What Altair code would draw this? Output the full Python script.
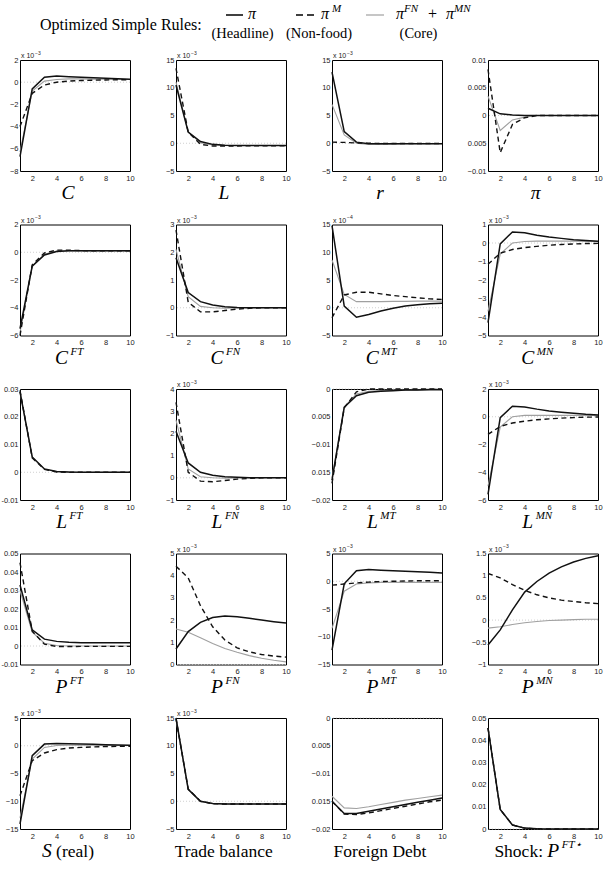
import altair as alt
import pandas as pd

steps = [1, 2, 3, 4, 5, 6, 7, 8, 9, 10]
x_ticks = [2, 4, 6, 8, 10]
x_labels = ["2", "4", "6", "8", "10"]

# Series: head = pi (Headline), nonf = pi^M (Non-food), core = pi^FN + pi^MN (Core)
C_head = [-6.7, -0.6, 0.45, 0.55, 0.5, 0.45, 0.4, 0.35, 0.3, 0.27]
C_nonf = [-4.0, -1.0, -0.25, 0.0, 0.1, 0.15, 0.18, 0.2, 0.22, 0.23]
C_core = [-6.3, -0.8, 0.1, 0.25, 0.3, 0.3, 0.28, 0.27, 0.26, 0.25]
C_ticks = [-8, -6, -4, -2, 0, 2]
C_labels = ["−8", "−6", "−4", "−2", "0", "2"]

L_head = [10.5, 2.0, 0.3, -0.2, -0.35, -0.4, -0.4, -0.4, -0.4, -0.4]
L_nonf = [13.5, 2.0, -0.2, -0.5, -0.5, -0.5, -0.45, -0.45, -0.45, -0.45]
L_core = [11.0, 2.0, 0.1, -0.3, -0.4, -0.4, -0.4, -0.4, -0.4, -0.4]
L_ticks = [-5, 0, 5, 10, 15]
L_labels = ["−5", "0", "5", "10", "15"]

r_head = [12.8, 2.1, 0.2, -0.1, -0.1, -0.1, -0.1, -0.1, -0.1, -0.1]
r_nonf = [0.2, 0.15, 0.05, 0.0, -0.05, -0.05, -0.05, -0.05, -0.05, -0.05]
r_core = [7.0, 1.5, 0.0, -0.2, -0.2, -0.15, -0.1, -0.1, -0.1, -0.1]
r_ticks = [-5, 0, 5, 10, 15]
r_labels = ["−5", "0", "5", "10", "15"]

pi_head = [0.0013, 0.0003, 0.0001, 0.0, 0.0, 0.0, 0.0, 0.0, 0.0, 0.0]
pi_nonf = [0.0083, -0.0067, -0.0016, -0.0004, 0.0, 0.0, 0.0, 0.0, 0.0, 0.0]
pi_core = [0.0035, -0.0027, -0.0008, -0.0003, 0.0, 0.0, 0.0, 0.0, 0.0, 0.0]
pi_ticks = [-0.01, -0.005, 0, 0.005, 0.01]
pi_labels = ["−0.01", "0.005", "0", "0.005", "0.01"]

CFT_head = [-5.5, -1.0, -0.2, 0.05, 0.1, 0.1, 0.1, 0.1, 0.1, 0.1]
CFT_nonf = [-6.0, -0.9, -0.05, 0.15, 0.15, 0.12, 0.1, 0.1, 0.1, 0.1]
CFT_core = [-5.8, -1.0, -0.15, 0.08, 0.1, 0.1, 0.1, 0.1, 0.1, 0.1]
CFT_ticks = [-6, -4, -2, 0, 2]
CFT_labels = ["−6", "−4", "−2", "0", "2"]

CFN_head = [1.8, 0.55, 0.22, 0.1, 0.04, 0.01, 0.0, 0.0, 0.0, 0.0]
CFN_nonf = [2.8, 0.2, -0.15, -0.15, -0.1, -0.05, -0.02, 0.0, 0.0, 0.0]
CFN_core = [2.1, 0.4, 0.05, 0.0, -0.02, -0.01, 0.0, 0.0, 0.0, 0.0]
CFN_ticks = [-1, 0, 1, 2, 3]
CFN_labels = ["−1", "0", "1", "2", "3"]

CMT_head = [14.8, 0.3, -1.7, -1.2, -0.6, -0.1, 0.3, 0.55, 0.7, 0.8]
CMT_nonf = [-1.8, 2.3, 2.8, 2.8, 2.5, 2.2, 2.0, 1.8, 1.6, 1.5]
CMT_core = [8.6, 2.4, 1.1, 1.1, 1.1, 1.15, 1.15, 1.2, 1.2, 1.2]
CMT_ticks = [-5, 0, 5, 10, 15]
CMT_labels = ["−5", "0", "5", "10", "15"]

CMN_head = [-4.3, -0.05, 0.6, 0.55, 0.42, 0.32, 0.25, 0.18, 0.14, 0.1]
CMN_nonf = [-1.15, -0.55, -0.35, -0.25, -0.18, -0.12, -0.08, -0.05, -0.03, -0.02]
CMN_core = [-3.7, -0.6, 0.0, 0.08, 0.1, 0.1, 0.1, 0.1, 0.09, 0.08]
CMN_ticks = [-5, -4, -3, -2, -1, 0, 1]
CMN_labels = ["−5", "−4", "−3", "−2", "−1", "0", "1"]

LFT_head = [0.029, 0.0055, 0.0012, 0.0003, 0.0001, 0.0, 0.0, 0.0, 0.0, 0.0]
LFT_nonf = [0.0295, 0.0052, 0.001, 0.0001, 0.0, 0.0, 0.0, 0.0, 0.0, 0.0]
LFT_core = [0.029, 0.0053, 0.0011, 0.0002, 0.0, 0.0, 0.0, 0.0, 0.0, 0.0]
LFT_ticks = [-0.01, 0, 0.01, 0.02, 0.03]
LFT_labels = ["-0.01", "0", "0.01", "0.02", "0.03"]

LFN_head = [2.1, 0.67, 0.25, 0.12, 0.05, 0.02, 0.0, 0.0, 0.0, 0.0]
LFN_nonf = [3.4, 0.25, -0.15, -0.18, -0.12, -0.06, -0.03, 0.0, 0.0, 0.0]
LFN_core = [2.6, 0.4, 0.05, 0.0, -0.02, -0.01, 0.0, 0.0, 0.0, 0.0]
LFN_ticks = [-1, 0, 1, 2, 3, 4]
LFN_labels = ["−1", "0", "1", "2", "3", "4"]

LMT_head = [-0.0164, -0.0033, -0.0012, -0.0006, -0.0004, -0.0003, -0.0002, -0.0002, -0.0001, -0.0001]
LMT_nonf = [-0.017, -0.0034, -0.0005, 0.0, 0.0, 0.0, 0.0, 0.0, 0.0, 0.0]
LMT_core = [-0.016, -0.0032, -0.0009, -0.0004, -0.0003, -0.0002, -0.0002, -0.0002, -0.0002, -0.0002]
LMT_ticks = [-0.02, -0.015, -0.01, -0.005, 0]
LMT_labels = ["−0.02", "0.015", "−0.01", "0.005", "0"]

LMN_head = [-5.6, -0.06, 0.76, 0.7, 0.55, 0.42, 0.33, 0.25, 0.18, 0.13]
LMN_nonf = [-1.27, -0.7, -0.45, -0.32, -0.22, -0.15, -0.1, -0.06, -0.03, -0.02]
LMN_core = [-5.0, -0.75, 0.0, 0.1, 0.1, 0.1, 0.1, 0.1, 0.1, 0.1]
LMN_ticks = [-6, -4, -2, 0, 2]
LMN_labels = ["−6", "−4", "−2", "0", "2"]

PFT_head = [0.033, 0.0087, 0.0037, 0.0025, 0.002, 0.0018, 0.0017, 0.0017, 0.0017, 0.0017]
PFT_nonf = [0.045, 0.008, 0.001, -0.0003, -0.0003, -0.0002, -0.0002, -0.0002, -0.0002, -0.0002]
PFT_core = [0.030, 0.0075, 0.0015, 0.0003, 0.0, 0.0, 0.0, 0.0, 0.0, 0.0]
PFT_ticks = [-0.01, 0, 0.01, 0.02, 0.03, 0.04, 0.05]
PFT_labels = ["-0.01", "0", "0.01", "0.02", "0.03", "0.04", "0.05"]

PFN_head = [0.7, 1.48, 1.9, 2.12, 2.18, 2.15, 2.08, 2.0, 1.93, 1.87]
PFN_nonf = [4.43, 3.9, 2.65, 1.7, 1.1, 0.75, 0.57, 0.45, 0.38, 0.33]
PFN_core = [1.6, 1.45, 1.2, 0.95, 0.72, 0.55, 0.4, 0.28, 0.19, 0.12]
PFN_ticks = [0, 1, 2, 3, 4, 5]
PFN_labels = ["0", "1", "2", "3", "4", "5"]

PMT_head = [-12.4, -0.45, 1.9, 2.1, 2.0, 1.9, 1.8, 1.7, 1.6, 1.5]
PMT_nonf = [-0.7, -0.5, -0.3, -0.15, -0.05, 0.0, 0.05, 0.08, 0.1, 0.1]
PMT_core = [-8.5, -1.8, -0.5, -0.3, -0.2, -0.2, -0.2, -0.2, -0.2, -0.2]
PMT_ticks = [-15, -10, -5, 0, 5]
PMT_labels = ["−15", "−10", "−5", "0", "5"]

PMN_head = [-0.56, -0.22, 0.23, 0.63, 0.87, 1.06, 1.2, 1.31, 1.39, 1.45]
PMN_nonf = [1.05, 0.95, 0.8, 0.67, 0.57, 0.5, 0.45, 0.42, 0.39, 0.37]
PMN_core = [-0.18, -0.15, -0.1, -0.06, -0.03, -0.01, 0.0, 0.01, 0.02, 0.02]
PMN_ticks = [-1, -0.5, 0, 0.5, 1, 1.5]
PMN_labels = ["−1", "−0.5", "0", "0.5", "1", "1.5"]

S_head = [-14.1, -1.8, 0.3, 0.4, 0.35, 0.3, 0.25, 0.2, 0.15, 0.1]
S_nonf = [-9.0, -2.7, -1.3, -0.7, -0.4, -0.3, -0.2, -0.15, -0.1, -0.1]
S_core = [-13.0, -2.4, -0.3, 0.05, 0.1, 0.1, 0.08, 0.06, 0.05, 0.05]
S_ticks = [-15, -10, -5, 0, 5]
S_labels = ["−15", "−10", "−5", "0", "5"]

TB_head = [15.0, 2.15, 0.0, -0.4, -0.5, -0.5, -0.5, -0.5, -0.5, -0.5]
TB_nonf = [14.9, 2.2, 0.0, -0.45, -0.5, -0.5, -0.5, -0.5, -0.5, -0.5]
TB_core = [14.8, 2.1, -0.05, -0.4, -0.5, -0.5, -0.5, -0.5, -0.5, -0.5]
TB_ticks = [-5, 0, 5, 10, 15]
TB_labels = ["−5", "0", "5", "10", "15"]

FD_head = [-0.0150, -0.0172, -0.0172, -0.0168, -0.0164, -0.0160, -0.0156, -0.0152, -0.0148, -0.0144]
FD_nonf = [-0.0150, -0.0173, -0.0174, -0.0171, -0.0167, -0.0163, -0.0159, -0.0155, -0.0151, -0.0148]
FD_core = [-0.0141, -0.0162, -0.0163, -0.0160, -0.0156, -0.0152, -0.0148, -0.0145, -0.0142, -0.0139]
FD_ticks = [-0.02, -0.015, -0.01, -0.005, 0]
FD_labels = ["−0.02", "0.015", "−0.01", "0.005", "0"]

SH_head = [0.0455, 0.0088, 0.0018, 0.0004, 0.0001, 0.0, 0.0, 0.0, 0.0, 0.0]
SH_nonf = [0.0455, 0.0088, 0.0018, 0.0004, 0.0001, 0.0, 0.0, 0.0, 0.0, 0.0]
SH_core = [0.0455, 0.0088, 0.0018, 0.0004, 0.0001, 0.0, 0.0, 0.0, 0.0, 0.0]
SH_ticks = [0, 0.01, 0.02, 0.03, 0.04, 0.05]
SH_labels = ["0", "0.01", "0.02", "0.03", "0.04", "0.05"]

header_title = "Optimized Simple Rules:"
legend_names = ["(Headline)", "(Non-food)", "(Core)"]

# ---------------------------------------------------------------- styling
SER = "Liberation Serif"
SANS = "Liberation Sans"
PW, PH = 110, 111
TCX, TBASE = 48, 139
SIZES = {"rm": 17.5, "it": 19.5, "sup": 11}
UP = {"T": .611, "r": .333, "a": .444, "d": .5, "e": .444, " ": .25, "b": .5, "l": .278,
      "n": .5, "c": .444, "F": .556, "o": .5, "i": .278, "g": .5, "D": .722, "t": .278,
      "S": .556, "h": .5, "k": .5, ":": .278, "(": .333, ")": .333}
IT = {"C": .667, "L": .556, "r": .389, "π": .55, "P": .611, "S": .5, "F": .611, "T": .556,
      "N": .667, "M": .833, "⋆": .5}


def one(t, x, y, size, font=SER, style="normal", align="left", color="#000"):
    return alt.Chart(pd.DataFrame({"t": [t]})).mark_text(
        font=font, fontSize=size, fontStyle=style, align=align,
        baseline="alphabetic", color=color
    ).encode(text="t:N", x=alt.value(x), y=alt.value(y))


def hrule(x1, x2, y, **kw):
    return alt.Chart(pd.DataFrame({"a": [0]})).mark_rule(**kw).encode(
        x=alt.value(x1), x2=alt.value(x2), y=alt.value(y))


def label_expr(vals, labs):
    parts = [f"datum.value == {v} ? '{l}'" for v, l in zip(vals, labs)]
    return " : ".join(parts) + " : ''"


def title_marks(segs):
    widths = [sum((UP if k == "rm" else IT).get(ch, 0.5) for ch in t) * SIZES[k] for t, k in segs]
    x = TCX - sum(widths) / 2
    out = []
    for (t, k), w in zip(segs, widths):
        y = TBASE - 9 if k == "sup" else TBASE
        style = "normal" if k == "rm" else "italic"
        if k == "sup":
            x += 2.5
        lead = len(t) - len(t.lstrip(" "))
        xs = x + lead * UP[" "] * SIZES[k]
        out.append(one(t.strip(" "), xs, y, SIZES[k], SER, style))
        x += w
    return out


def panel(head, nonf, core, ticks, labels, title, mult, extra=()):
    xe = alt.X("s:Q", scale=alt.Scale(domain=[1, 10], nice=False, zero=False),
               axis=alt.Axis(values=x_ticks, labelExpr=label_expr(x_ticks, x_labels),
                             title=None, labelFlush=False))
    ye = alt.Y("v:Q", scale=alt.Scale(domain=[ticks[0], ticks[-1]], nice=False, zero=False),
               axis=alt.Axis(values=ticks, labelExpr=label_expr(ticks, labels), title=None))

    def line(vals, **kw):
        return alt.Chart(pd.DataFrame({"s": steps, "v": vals})).mark_line(**kw).encode(x=xe, y=ye)

    zero = alt.Chart(pd.DataFrame({"v": [0]})).mark_rule(
        color="#c4c4c4", strokeWidth=0.8, strokeDash=[1, 2]).encode(y=ye)
    layers = [zero,
              line(core, color="#a0a0a0", strokeWidth=1.1),
              line(nonf, color="#111", strokeWidth=1.4, strokeDash=[5, 3.5]),
              line(head, color="#111", strokeWidth=1.5)]
    layers += title_marks(title)
    if mult:
        layers += [one("x 10", 1, -2, 7, SANS, color="#222"),
                   one(mult, 15, -5.5, 5, SANS, color="#222")]
    layers += list(extra)
    return alt.layer(*layers).properties(width=PW, height=PH)


header = [
    one(header_title, 20, -30, 16),
    hrule(206, 223, -45, color="#000", strokeWidth=1.5),
    one("π", 228, -41, 16, style="italic"),
    hrule(276, 294, -45, color="#000", strokeWidth=1.5, strokeDash=[7, 4]),
    one("π", 301, -41, 16, style="italic"),
    one("M", 312, -48, 11, style="italic"),
    hrule(346, 364, -45, color="#a0a0a0", strokeWidth=1.2),
    one("π", 376, -41, 16, style="italic"),
    one("FN", 384, -48, 11, style="italic"),
    one("+", 408, -41, 16),
    one("π", 426, -41, 16, style="italic"),
    one("MN", 434, -48, 11, style="italic"),
    one(legend_names[0], 222.5, -22, 14.5, align="center"),
    one(legend_names[1], 299, -22, 14.5, align="center"),
    one(legend_names[2], 398.5, -22, 14.5, align="center"),
]

m3, m4 = "−3", "−4"
charts = [
    panel(C_head, C_nonf, C_core, C_ticks, C_labels, [("C", "it")], m3, header),
    panel(L_head, L_nonf, L_core, L_ticks, L_labels, [("L", "it")], m3),
    panel(r_head, r_nonf, r_core, r_ticks, r_labels, [("r", "it")], m3),
    panel(pi_head, pi_nonf, pi_core, pi_ticks, pi_labels, [("π", "it")], None),
    panel(CFT_head, CFT_nonf, CFT_core, CFT_ticks, CFT_labels, [("C", "it"), ("FT", "sup")], m3),
    panel(CFN_head, CFN_nonf, CFN_core, CFN_ticks, CFN_labels, [("C", "it"), ("FN", "sup")], m3),
    panel(CMT_head, CMT_nonf, CMT_core, CMT_ticks, CMT_labels, [("C", "it"), ("MT", "sup")], m4),
    panel(CMN_head, CMN_nonf, CMN_core, CMN_ticks, CMN_labels, [("C", "it"), ("MN", "sup")], m3),
    panel(LFT_head, LFT_nonf, LFT_core, LFT_ticks, LFT_labels, [("L", "it"), ("FT", "sup")], None),
    panel(LFN_head, LFN_nonf, LFN_core, LFN_ticks, LFN_labels, [("L", "it"), ("FN", "sup")], m3),
    panel(LMT_head, LMT_nonf, LMT_core, LMT_ticks, LMT_labels, [("L", "it"), ("MT", "sup")], None),
    panel(LMN_head, LMN_nonf, LMN_core, LMN_ticks, LMN_labels, [("L", "it"), ("MN", "sup")], m3),
    panel(PFT_head, PFT_nonf, PFT_core, PFT_ticks, PFT_labels, [("P", "it"), ("FT", "sup")], None),
    panel(PFN_head, PFN_nonf, PFN_core, PFN_ticks, PFN_labels, [("P", "it"), ("FN", "sup")], m3),
    panel(PMT_head, PMT_nonf, PMT_core, PMT_ticks, PMT_labels, [("P", "it"), ("MT", "sup")], m3),
    panel(PMN_head, PMN_nonf, PMN_core, PMN_ticks, PMN_labels, [("P", "it"), ("MN", "sup")], m3),
    panel(S_head, S_nonf, S_core, S_ticks, S_labels, [("S", "it"), (" (real)", "rm")], m3),
    panel(TB_head, TB_nonf, TB_core, TB_ticks, TB_labels, [("Trade balance", "rm")], m3),
    panel(FD_head, FD_nonf, FD_core, FD_ticks, FD_labels, [("Foreign Debt", "rm")], None),
    panel(SH_head, SH_nonf, SH_core, SH_ticks, SH_labels,
          [("Shock: ", "rm"), ("P", "it"), ("FT⋆", "sup")], None),
]

chart = alt.concat(
    *charts, columns=4, spacing={"row": 53.5, "column": 46}, bounds="flush"
).properties(
    padding={"left": 0, "top": 2, "right": 0, "bottom": 0}, background="white"
).configure_view(
    stroke="#000", strokeWidth=1
).configure_axis(
    grid=False, domain=False, ticks=False, labelFont=SANS, labelFontSize=7.5,
    labelColor="#222", labelPadding=2
).configure_axisX(labelPadding=3)

chart.save("out.html", embed_options={"renderer": "svg", "actions": False})
